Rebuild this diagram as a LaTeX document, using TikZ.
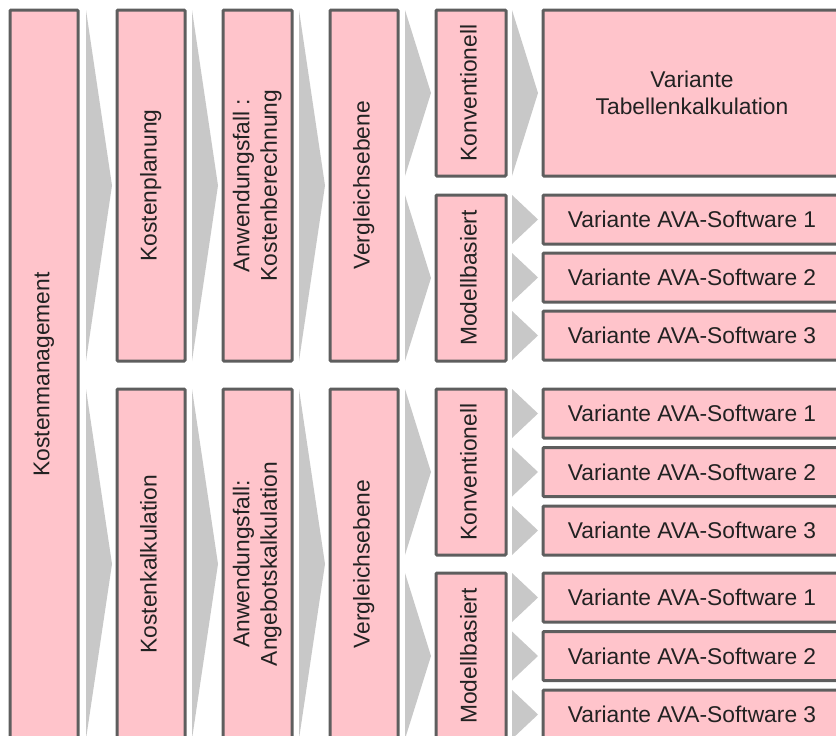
\documentclass[tikz,border=0pt]{standalone}
\usepackage{fontspec}
\setmainfont{Liberation Sans}
\usepackage{graphicx}
\definecolor{boxfill}{HTML}{FFC4CB}
\definecolor{boxline}{HTML}{5E5E5E}
\definecolor{chevgray}{HTML}{C8C8C8}
\definecolor{txt}{HTML}{222222}
\newcommand\rottext[1]{\rotatebox{90}{\begin{tabular}{@{}c@{}}#1\end{tabular}}}
\tikzset{
  box/.style={draw=boxline, fill=boxfill, line width=3pt, rounded corners=1pt,
    inner sep=0pt, outer sep=0pt, align=center, text=txt,
    font=\fontsize{22.8}{27.5}\selectfont},
  chev/.style={fill=chevgray, draw=none},
}
\newcommand\chevto[1]{\fill[chev] ([xshift=-31pt]#1.north west) -- ([xshift=-5pt]#1.west) -- ([xshift=-31pt]#1.south west) -- cycle;}
\begin{document}
\begin{tikzpicture}[x=1pt,y=-1pt]
\useasboundingbox (0,0) rectangle (836,736);
\clip (0,0) rectangle (836,736);
% column 1
\node[box, minimum width=68, minimum height=729] (km) at (44,374.5) {\rottext{Kostenmanagement}};
% column 2
\node[box, minimum width=68, minimum height=351] (kp) at (151,185.5) {\rottext{Kostenplanung}};
\node[box, minimum width=68, minimum height=350] (kk) at (151,564) {\rottext{Kostenkalkulation}};
% column 3
\node[box, minimum width=69, minimum height=351] (ab1) at (257.5,185.5) {\rottext{Anwendungsfall :\\Kostenberechnung}};
\node[box, minimum width=69, minimum height=350] (ab2) at (257.5,564) {\rottext{Anwendungsfall:\\Angebotskalkulation}};
% column 4
\node[box, minimum width=68, minimum height=351] (ve1) at (364,185.5) {\rottext{Vergleichsebene}};
\node[box, minimum width=68, minimum height=350] (ve2) at (364,564) {\rottext{Vergleichsebene}};
% column 5
\node[box, minimum width=70, minimum height=166] (k1) at (471,93) {\rottext{Konventionell}};
\node[box, minimum width=70, minimum height=166] (m1) at (471,278) {\rottext{Modellbasiert}};
\node[box, minimum width=70, minimum height=166] (k2) at (471,472) {\rottext{Konventionell}};
\node[box, minimum width=70, minimum height=166] (m2) at (471,656) {\rottext{Modellbasiert}};
% column 6
\node[box, minimum width=298, minimum height=166] (tab) at (692,93) {Variante\\Tabellenkalkulation};
\node[box, minimum width=298, minimum height=49] (a1) at (692,219.5) {Variante AVA-Software 1};
\node[box, minimum width=298, minimum height=49] (a2) at (692,277.5) {Variante AVA-Software 2};
\node[box, minimum width=298, minimum height=49] (a3) at (692,335.5) {Variante AVA-Software 3};
\node[box, minimum width=298, minimum height=49] (b1) at (692,413.5) {Variante AVA-Software 1};
\node[box, minimum width=298, minimum height=49] (b2) at (692,472) {Variante AVA-Software 2};
\node[box, minimum width=298, minimum height=49] (b3) at (692,530.5) {Variante AVA-Software 3};
\node[box, minimum width=298, minimum height=49] (c1) at (692,597.5) {Variante AVA-Software 1};
\node[box, minimum width=298, minimum height=49] (c2) at (692,656) {Variante AVA-Software 2};
\node[box, minimum width=298, minimum height=49] (c3) at (692,714.5) {Variante AVA-Software 3};
% chevrons
\chevto{kp}\chevto{kk}
\chevto{ab1}\chevto{ab2}
\chevto{ve1}\chevto{ve2}
\chevto{k1}\chevto{m1}\chevto{k2}\chevto{m2}
\chevto{tab}
\chevto{a1}\chevto{a2}\chevto{a3}
\chevto{b1}\chevto{b2}\chevto{b3}
\chevto{c1}\chevto{c2}\chevto{c3}
\end{tikzpicture}
\end{document}
